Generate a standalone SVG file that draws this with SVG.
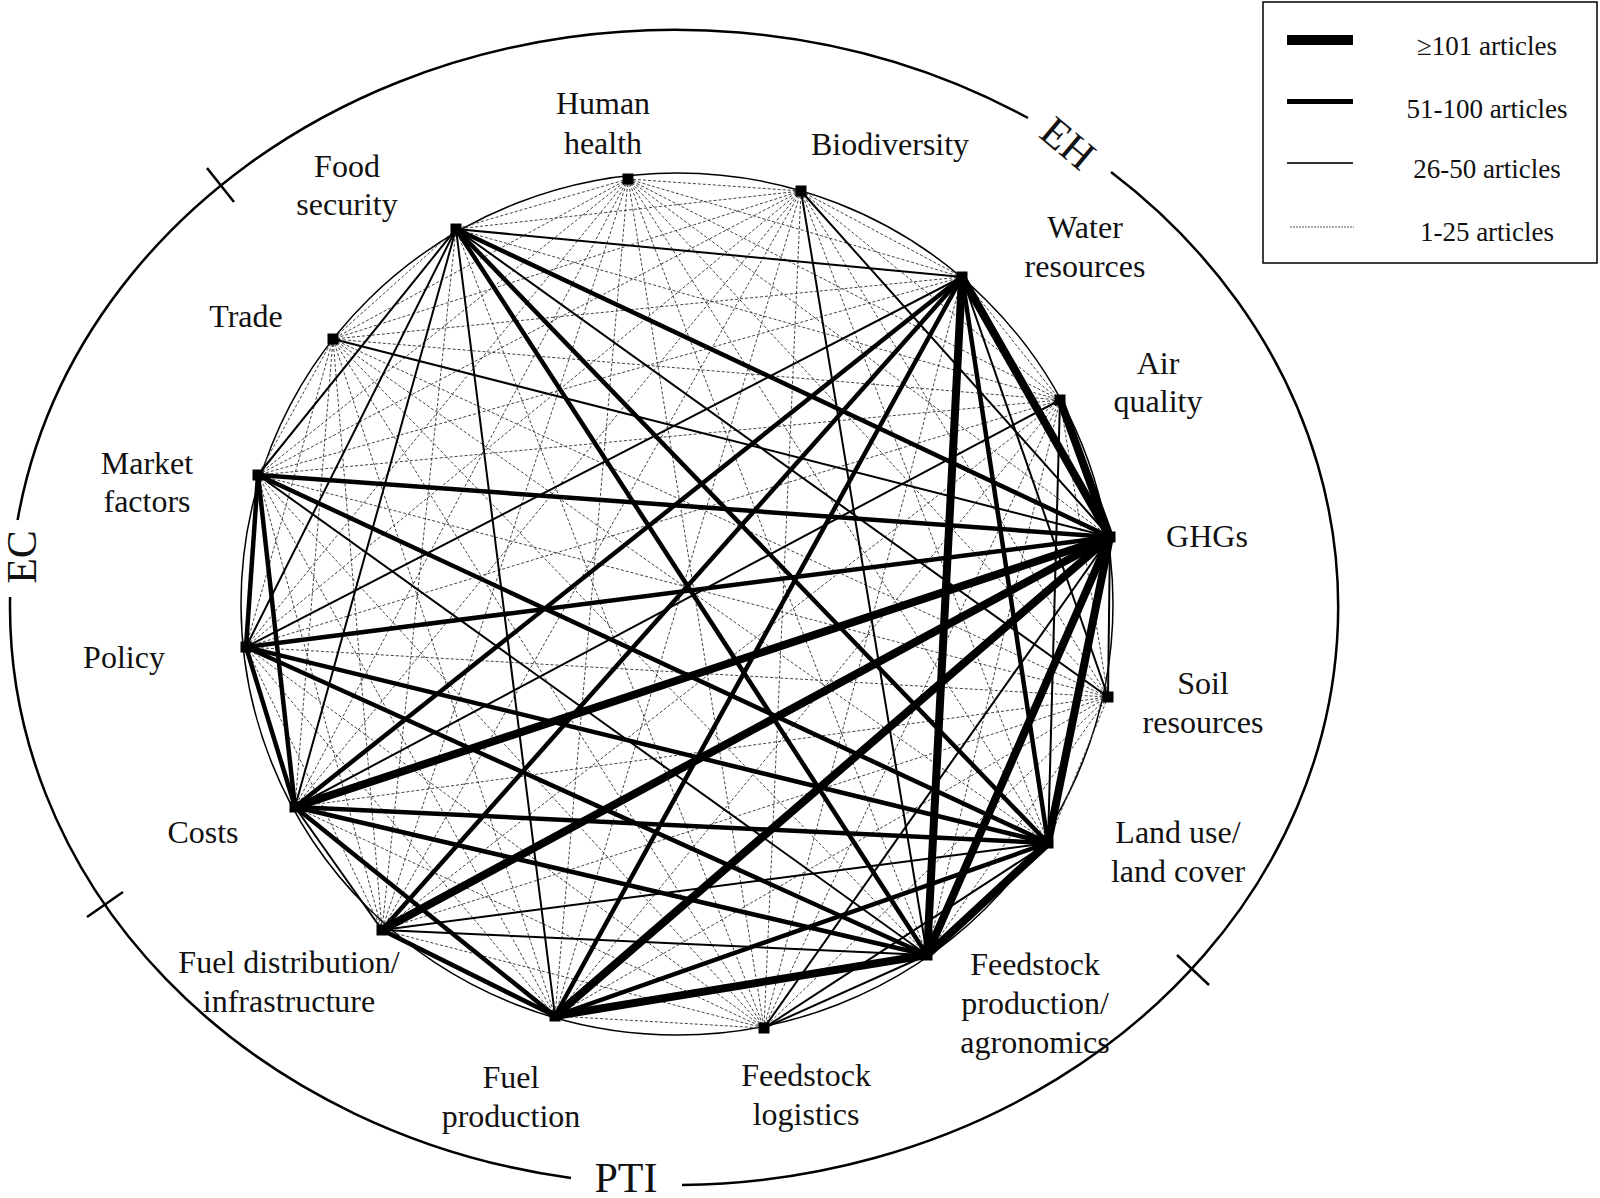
<svg xmlns="http://www.w3.org/2000/svg" width="1600" height="1198" viewBox="0 0 1600 1198">
<style>
.lbl{font-family:"Liberation Serif","Times New Roman",serif;font-size:32px;fill:#111;text-anchor:middle}
.big{font-family:"Liberation Serif","Times New Roman",serif;font-size:42px;fill:#111;text-anchor:middle}
.leg{font-family:"Liberation Serif","Times New Roman",serif;font-size:27px;fill:#111;text-anchor:middle}
.d{stroke:#444;stroke-width:1;stroke-dasharray:3 2;fill:none}
.t{stroke:#000;stroke-width:2;fill:none}
.m{stroke:#000;stroke-width:4.5;fill:none}
.k{stroke:#000;stroke-width:8;fill:none}
.nd{fill:#000}
</style>
<rect width="1600" height="1198" fill="#fff"/>
<g id="outer">
<path d="M1111,172 A665,578 0 0 1 682,1185" fill="none" stroke="#000" stroke-width="2.5"/>
<path d="M571,1178 A665,578 0 0 1 10.1,597" fill="none" stroke="#000" stroke-width="2.5"/>
<path d="M17.6,520 A665,578 0 0 1 1028,118" fill="none" stroke="#000" stroke-width="2.5"/>
<line x1="207" y1="168" x2="234" y2="202" stroke="#000" stroke-width="2.5"/>
<line x1="87" y1="917" x2="123" y2="892" stroke="#000" stroke-width="2.5"/>
<line x1="1177" y1="955" x2="1209" y2="985" stroke="#000" stroke-width="2.5"/>
<text class="big" transform="translate(1059,154) rotate(40)">EH</text>
<text class="big" transform="translate(36,557) rotate(-90)">EC</text>
<text class="big" x="626" y="1192">PTI</text>
</g>
<ellipse id="ring" cx="677" cy="604" rx="436" ry="431" fill="none" stroke="#000" stroke-width="1.5"/>
<g id="connectors">
<g id="dotted">
<line class="d" x1="628" y1="179" x2="801" y2="191"/>
<line class="d" x1="628" y1="179" x2="456" y2="229"/>
<line class="d" x1="628" y1="179" x2="962" y2="277"/>
<line class="d" x1="628" y1="179" x2="333" y2="339"/>
<line class="d" x1="628" y1="179" x2="1060" y2="400"/>
<line class="d" x1="628" y1="179" x2="258" y2="475"/>
<line class="d" x1="628" y1="179" x2="1110" y2="537"/>
<line class="d" x1="628" y1="179" x2="246" y2="647"/>
<line class="d" x1="628" y1="179" x2="1108" y2="697"/>
<line class="d" x1="628" y1="179" x2="295" y2="807"/>
<line class="d" x1="628" y1="179" x2="1048" y2="843"/>
<line class="d" x1="628" y1="179" x2="382" y2="930"/>
<line class="d" x1="628" y1="179" x2="927" y2="955"/>
<line class="d" x1="628" y1="179" x2="555" y2="1016"/>
<line class="d" x1="628" y1="179" x2="764" y2="1028"/>
<line class="d" x1="801" y1="191" x2="456" y2="229"/>
<line class="d" x1="801" y1="191" x2="962" y2="277"/>
<line class="d" x1="801" y1="191" x2="333" y2="339"/>
<line class="d" x1="801" y1="191" x2="1060" y2="400"/>
<line class="d" x1="801" y1="191" x2="258" y2="475"/>
<line class="d" x1="801" y1="191" x2="246" y2="647"/>
<line class="d" x1="801" y1="191" x2="1108" y2="697"/>
<line class="d" x1="801" y1="191" x2="295" y2="807"/>
<line class="d" x1="801" y1="191" x2="1048" y2="843"/>
<line class="d" x1="801" y1="191" x2="382" y2="930"/>
<line class="d" x1="801" y1="191" x2="555" y2="1016"/>
<line class="d" x1="801" y1="191" x2="764" y2="1028"/>
<line class="d" x1="456" y1="229" x2="333" y2="339"/>
<line class="d" x1="456" y1="229" x2="1060" y2="400"/>
<line class="d" x1="456" y1="229" x2="382" y2="930"/>
<line class="d" x1="456" y1="229" x2="764" y2="1028"/>
<line class="d" x1="962" y1="277" x2="333" y2="339"/>
<line class="d" x1="962" y1="277" x2="1060" y2="400"/>
<line class="d" x1="962" y1="277" x2="258" y2="475"/>
<line class="d" x1="962" y1="277" x2="764" y2="1028"/>
<line class="d" x1="333" y1="339" x2="1060" y2="400"/>
<line class="d" x1="333" y1="339" x2="258" y2="475"/>
<line class="d" x1="333" y1="339" x2="246" y2="647"/>
<line class="d" x1="333" y1="339" x2="1108" y2="697"/>
<line class="d" x1="333" y1="339" x2="295" y2="807"/>
<line class="d" x1="333" y1="339" x2="1048" y2="843"/>
<line class="d" x1="333" y1="339" x2="382" y2="930"/>
<line class="d" x1="333" y1="339" x2="927" y2="955"/>
<line class="d" x1="333" y1="339" x2="555" y2="1016"/>
<line class="d" x1="333" y1="339" x2="764" y2="1028"/>
<line class="d" x1="1060" y1="400" x2="258" y2="475"/>
<line class="d" x1="1060" y1="400" x2="246" y2="647"/>
<line class="d" x1="1060" y1="400" x2="1108" y2="697"/>
<line class="d" x1="1060" y1="400" x2="382" y2="930"/>
<line class="d" x1="1060" y1="400" x2="927" y2="955"/>
<line class="d" x1="1060" y1="400" x2="555" y2="1016"/>
<line class="d" x1="1060" y1="400" x2="764" y2="1028"/>
<line class="d" x1="258" y1="475" x2="1108" y2="697"/>
<line class="d" x1="258" y1="475" x2="382" y2="930"/>
<line class="d" x1="258" y1="475" x2="555" y2="1016"/>
<line class="d" x1="258" y1="475" x2="764" y2="1028"/>
<line class="d" x1="246" y1="647" x2="1108" y2="697"/>
<line class="d" x1="246" y1="647" x2="382" y2="930"/>
<line class="d" x1="246" y1="647" x2="555" y2="1016"/>
<line class="d" x1="246" y1="647" x2="764" y2="1028"/>
<line class="d" x1="1108" y1="697" x2="295" y2="807"/>
<line class="d" x1="1108" y1="697" x2="1048" y2="843"/>
<line class="d" x1="1108" y1="697" x2="382" y2="930"/>
<line class="d" x1="1108" y1="697" x2="927" y2="955"/>
<line class="d" x1="1108" y1="697" x2="555" y2="1016"/>
<line class="d" x1="1108" y1="697" x2="764" y2="1028"/>
<line class="d" x1="295" y1="807" x2="764" y2="1028"/>
<line class="d" x1="382" y1="930" x2="764" y2="1028"/>
<line class="d" x1="555" y1="1016" x2="764" y2="1028"/>
</g>
<g id="thin">
<line class="t" x1="456" y1="229" x2="962" y2="277"/>
<line class="t" x1="456" y1="229" x2="1108" y2="697"/>
<line class="t" x1="456" y1="229" x2="555" y2="1016"/>
<line class="t" x1="456" y1="229" x2="295" y2="807"/>
<line class="t" x1="456" y1="229" x2="246" y2="647"/>
<line class="t" x1="456" y1="229" x2="258" y2="475"/>
<line class="t" x1="333" y1="339" x2="1110" y2="537"/>
<line class="t" x1="801" y1="191" x2="927" y2="955"/>
<line class="t" x1="801" y1="191" x2="1110" y2="537"/>
<line class="t" x1="258" y1="475" x2="927" y2="955"/>
<line class="t" x1="962" y1="277" x2="246" y2="647"/>
<line class="t" x1="295" y1="807" x2="382" y2="930"/>
<line class="t" x1="1048" y1="843" x2="382" y2="930"/>
<line class="t" x1="382" y1="930" x2="927" y2="955"/>
<line class="t" x1="1110" y1="537" x2="764" y2="1028"/>
<line class="t" x1="1048" y1="843" x2="764" y2="1028"/>
<line class="t" x1="927" y1="955" x2="764" y2="1028"/>
<line class="t" x1="1060" y1="400" x2="1048" y2="843"/>
<line class="t" x1="1110" y1="537" x2="1108" y2="697"/>
<line class="t" x1="962" y1="277" x2="1108" y2="697"/>
<line class="t" x1="1060" y1="400" x2="295" y2="807"/>
</g>
<g id="medium">
<line class="m" x1="1110" y1="537" x2="246" y2="647"/>
<line class="m" x1="1110" y1="537" x2="258" y2="475"/>
<line class="m" x1="1110" y1="537" x2="456" y2="229"/>
<line class="m" x1="456" y1="229" x2="1048" y2="843"/>
<line class="m" x1="456" y1="229" x2="927" y2="955"/>
<line class="m" x1="258" y1="475" x2="1048" y2="843"/>
<line class="m" x1="258" y1="475" x2="246" y2="647"/>
<line class="m" x1="258" y1="475" x2="295" y2="807"/>
<line class="m" x1="246" y1="647" x2="1048" y2="843"/>
<line class="m" x1="246" y1="647" x2="927" y2="955"/>
<line class="m" x1="246" y1="647" x2="295" y2="807"/>
<line class="m" x1="295" y1="807" x2="962" y2="277"/>
<line class="m" x1="295" y1="807" x2="1048" y2="843"/>
<line class="m" x1="295" y1="807" x2="927" y2="955"/>
<line class="m" x1="295" y1="807" x2="555" y2="1016"/>
<line class="m" x1="382" y1="930" x2="555" y2="1016"/>
<line class="m" x1="382" y1="930" x2="962" y2="277"/>
<line class="m" x1="555" y1="1016" x2="962" y2="277"/>
<line class="m" x1="555" y1="1016" x2="1048" y2="843"/>
<line class="m" x1="962" y1="277" x2="1048" y2="843"/>
</g>
<g id="thick">
<line class="k" x1="962" y1="277" x2="1110" y2="537"/>
<line class="k" x1="1060" y1="400" x2="1110" y2="537"/>
<line class="k" x1="1110" y1="537" x2="1048" y2="843"/>
<line class="k" x1="1110" y1="537" x2="927" y2="955"/>
<line class="k" x1="1110" y1="537" x2="555" y2="1016"/>
<line class="k" x1="1110" y1="537" x2="382" y2="930"/>
<line class="k" x1="1110" y1="537" x2="295" y2="807"/>
<line class="k" x1="962" y1="277" x2="927" y2="955"/>
<line class="k" x1="555" y1="1016" x2="927" y2="955"/>
<line class="k" x1="1048" y1="843" x2="927" y2="955"/>
</g>
</g>
<g id="nodes">
<g id="n-hh"><rect class="nd" x="622.5" y="173.5" width="11" height="11"/><text class="lbl" x="603" y="114">Human</text><text class="lbl" x="603" y="154">health</text></g>
<g id="n-bd"><rect class="nd" x="795.5" y="185.5" width="11" height="11"/><text class="lbl" x="890" y="155">Biodiversity</text></g>
<g id="n-fs"><rect class="nd" x="450.5" y="223.5" width="11" height="11"/><text class="lbl" x="347" y="177">Food</text><text class="lbl" x="347" y="215">security</text></g>
<g id="n-wr"><rect class="nd" x="956.5" y="271.5" width="11" height="11"/><text class="lbl" x="1085" y="238">Water</text><text class="lbl" x="1085" y="277">resources</text></g>
<g id="n-tr"><rect class="nd" x="327.5" y="333.5" width="11" height="11"/><text class="lbl" x="246" y="327">Trade</text></g>
<g id="n-aq"><rect class="nd" x="1054.5" y="394.5" width="11" height="11"/><text class="lbl" x="1158" y="374">Air</text><text class="lbl" x="1158" y="412">quality</text></g>
<g id="n-mf"><rect class="nd" x="252.5" y="469.5" width="11" height="11"/><text class="lbl" x="147" y="474">Market</text><text class="lbl" x="147" y="512">factors</text></g>
<g id="n-ghg"><rect class="nd" x="1104.5" y="531.5" width="11" height="11"/><text class="lbl" x="1207" y="547">GHGs</text></g>
<g id="n-po"><rect class="nd" x="240.5" y="641.5" width="11" height="11"/><text class="lbl" x="124" y="668">Policy</text></g>
<g id="n-sr"><rect class="nd" x="1102.5" y="691.5" width="11" height="11"/><text class="lbl" x="1203" y="694">Soil</text><text class="lbl" x="1203" y="733">resources</text></g>
<g id="n-co"><rect class="nd" x="289.5" y="801.5" width="11" height="11"/><text class="lbl" x="203" y="843">Costs</text></g>
<g id="n-lu"><rect class="nd" x="1042.5" y="837.5" width="11" height="11"/><text class="lbl" x="1178" y="843">Land use/</text><text class="lbl" x="1178" y="882">land cover</text></g>
<g id="n-fd"><rect class="nd" x="376.5" y="924.5" width="11" height="11"/><text class="lbl" x="289" y="973">Fuel distribution/</text><text class="lbl" x="289" y="1012">infrastructure</text></g>
<g id="n-fp"><rect class="nd" x="921.5" y="949.5" width="11" height="11"/><text class="lbl" x="1035" y="975">Feedstock</text><text class="lbl" x="1035" y="1014">production/</text><text class="lbl" x="1035" y="1053">agronomics</text></g>
<g id="n-fpr"><rect class="nd" x="549.5" y="1010.5" width="11" height="11"/><text class="lbl" x="511" y="1088">Fuel</text><text class="lbl" x="511" y="1127">production</text></g>
<g id="n-fl"><rect class="nd" x="758.5" y="1022.5" width="11" height="11"/><text class="lbl" x="806" y="1086">Feedstock</text><text class="lbl" x="806" y="1125">logistics</text></g>
</g>
<g id="legend">
<rect x="1263" y="2" width="334" height="261" fill="#fff" stroke="#000" stroke-width="1.5"/>
<line x1="1287" y1="40" x2="1353" y2="40" stroke="#000" stroke-width="10"/>
<line x1="1287" y1="101.5" x2="1353" y2="101.5" stroke="#000" stroke-width="5"/>
<line x1="1287" y1="163" x2="1353" y2="163" stroke="#333" stroke-width="1.8"/>
<line x1="1290" y1="227" x2="1354" y2="227" stroke="#555" stroke-width="1" stroke-dasharray="2 1"/>
<text class="leg" x="1487" y="55">≥101 articles</text>
<text class="leg" x="1487" y="118">51-100 articles</text>
<text class="leg" x="1487" y="178">26-50 articles</text>
<text class="leg" x="1487" y="241">1-25 articles</text>
</g>
</svg>
